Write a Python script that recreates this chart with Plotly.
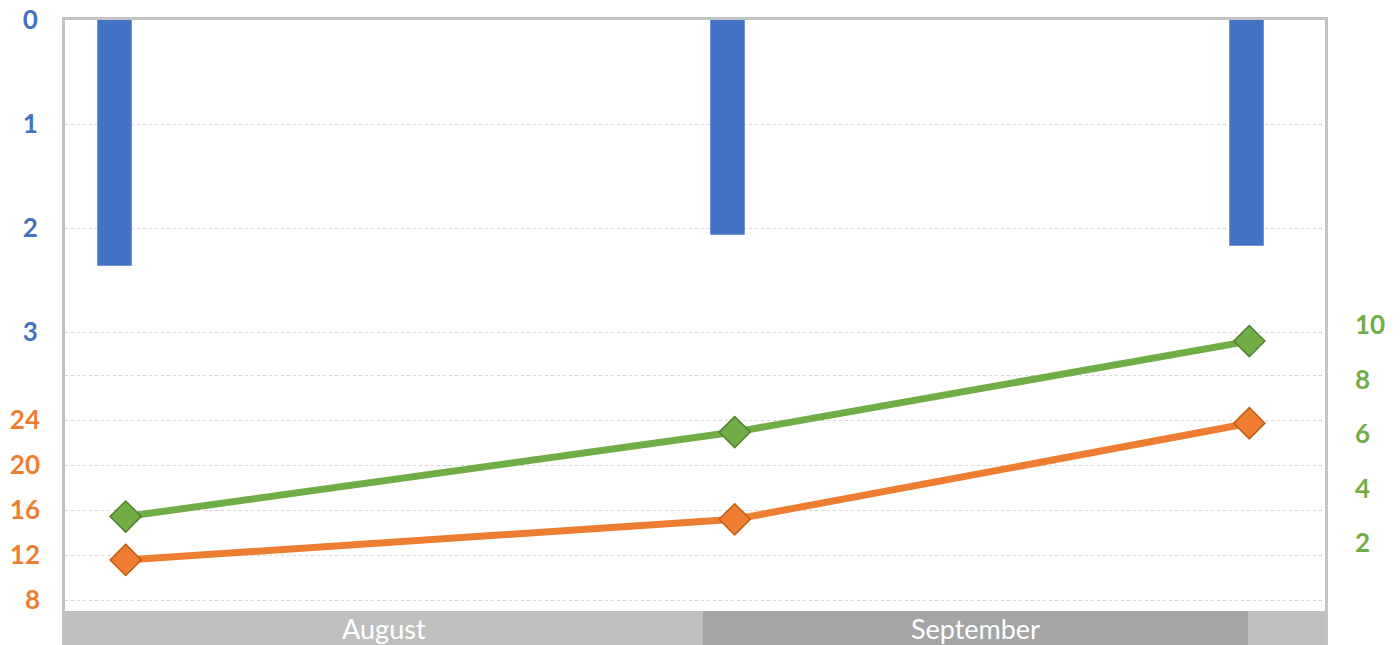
import plotly.graph_objects as go

# ---- data ----
bar_x = [0.495, 6.633, 11.816]
bar_values = [2.365, 2.067, 2.17]

line_x = [0.607, 6.697, 11.843]
orange_values = [11.56, 15.17, 23.71]
green_values = [2.97, 6.07, 9.41]

band_centers = [3.19, 9.105, 12.215]
band_widths = [6.38, 5.45, 0.77]
band_labels = ["August", "September", ""]
band_colors = ["#BFBFBF", "#A5A5A5", "#BFBFBF"]

blue_ticks = [0, 1, 2, 3]
orange_ticks = [8, 12, 16, 20, 24, 28]
orange_ticktext = ["8", "12", "16", "20", "24", ""]
green_ticks = [2, 4, 6, 8, 10]

BLUE = "#4472C4"
ORANGE = "#ED7D31"
GREEN = "#70AD47"
GRID = "#D6D6D6"
FRAME = "#C3C3C3"
FONT = "Lato"

W, H = 1400, 645
plot_top, plot_bottom = 20, 611
x_left, x_right = 65, 1325

fig = go.Figure()

fig.add_trace(go.Bar(
    x=bar_x, y=bar_values, width=0.34, xaxis="x", yaxis="y",
    marker=dict(color=BLUE, line=dict(color="#6F97D6", width=1)),
    showlegend=False, hoverinfo="skip"))

fig.add_trace(go.Scatter(
    x=line_x, y=orange_values, xaxis="x", yaxis="y2", mode="lines+markers",
    line=dict(color=ORANGE, width=7),
    marker=dict(symbol="diamond", size=24, color=ORANGE,
                line=dict(color="#C55A11", width=1.5)),
    showlegend=False, hoverinfo="skip"))

fig.add_trace(go.Scatter(
    x=line_x, y=green_values, xaxis="x", yaxis="y3", mode="lines+markers",
    line=dict(color=GREEN, width=7),
    marker=dict(symbol="diamond", size=24, color=GREEN,
                line=dict(color="#507E32", width=1.5)),
    showlegend=False, hoverinfo="skip"))

fig.add_trace(go.Bar(
    x=band_centers, y=[1, 1, 1], width=band_widths, xaxis="x", yaxis="y4",
    marker=dict(color=band_colors, line=dict(width=0)),
    text=band_labels, textposition="inside", insidetextanchor="middle",
    constraintext="none", cliponaxis=False,
    textfont=dict(color="white", size=27, family=FONT),
    showlegend=False, hoverinfo="skip"))

dom_y = [(H - plot_bottom) / H, (H - plot_top) / H]

blue_px = 104.0
orange_px = 11.25
green_px = 27.25

tick_font = dict(size=26, family=FONT, weight="bold")

fig.update_layout(
    width=W, height=H,
    margin=dict(l=0, r=0, t=0, b=0, autoexpand=False),
    paper_bgcolor="white", plot_bgcolor="white",
    bargap=0,
    xaxis=dict(domain=[x_left / W, x_right / W], range=[0, 12.6],
               side="top", showline=True, linewidth=3, linecolor=FRAME,
               showticklabels=False, showgrid=False, zeroline=False,
               ticks=""),
    yaxis=dict(domain=dom_y,
               range=[(plot_bottom - plot_top) / blue_px, 0],
               tickvals=blue_ticks, ticks="",
               tickfont=dict(color=BLUE, **tick_font),
               ticklabelstandoff=19,
               showgrid=True, gridcolor=GRID, griddash="dot", gridwidth=1,
               zeroline=False, showline=True, linewidth=3, linecolor=FRAME,
               mirror=True),
    yaxis2=dict(overlaying="y", side="left", anchor="x",
                range=[24 - (plot_bottom - 420) / orange_px,
                       24 + (420 - plot_top) / orange_px],
                tickvals=orange_ticks, ticktext=orange_ticktext, ticks="",
                tickfont=dict(color=ORANGE, **tick_font),
                ticklabelstandoff=24,
                showgrid=True, gridcolor=GRID, griddash="dot", gridwidth=1,
                zeroline=False, showline=False),
    yaxis3=dict(overlaying="y", side="right", anchor="x",
                range=[-(plot_bottom - 597.5) / green_px,
                       (597.5 - plot_top) / green_px],
                tickvals=green_ticks, ticks="",
                tickfont=dict(color=GREEN, **tick_font),
                ticklabelstandoff=29,
                showgrid=False, zeroline=False, showline=False),
    yaxis4=dict(domain=[0, (H - plot_bottom) / H], range=[0, 1],
                anchor="x", showticklabels=False, showgrid=False,
                zeroline=False, showline=True, linewidth=3,
                linecolor=FRAME, mirror=True, ticks=""),
)

fig.write_html("out.html",
               config={"displayModeBar": False},
               post_script="document.body.style.margin='0';"
                           "document.body.style.padding='0';")
